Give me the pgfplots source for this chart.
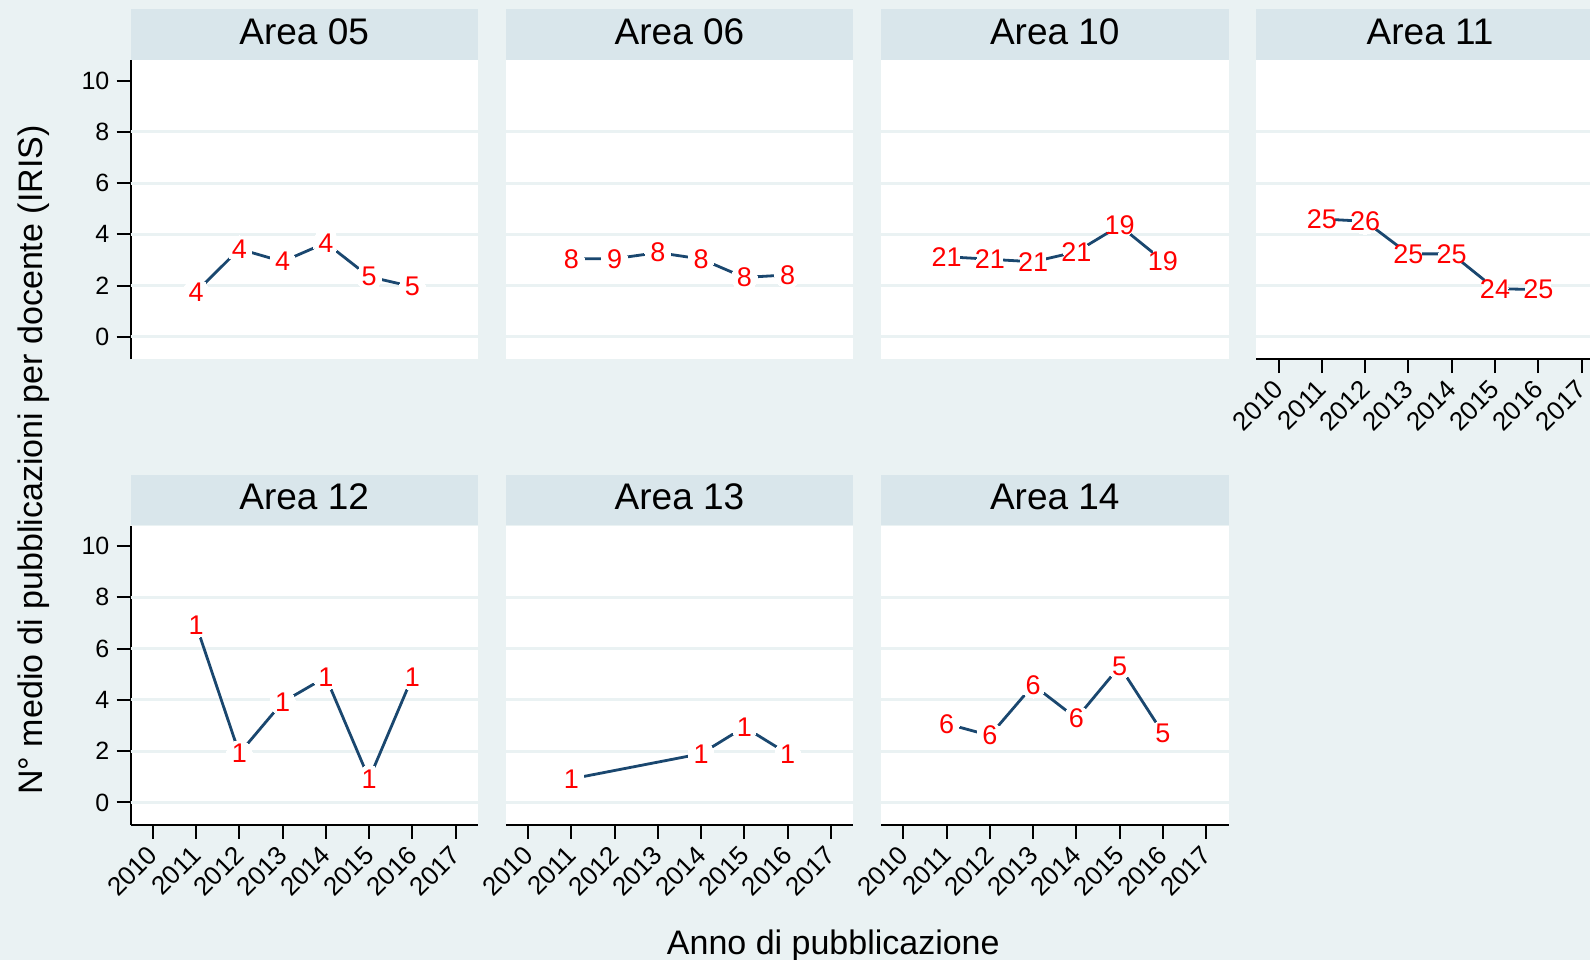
\documentclass[border=0pt]{standalone}
\usepackage{pgfplots}
\pgfplotsset{compat=1.18}
\usepackage{fontspec}
\setmainfont{Liberation Sans}

\definecolor{bgc}{RGB}{234,242,243}
\definecolor{stripc}{RGB}{217,230,235}
\definecolor{gridc}{RGB}{234,242,243}
\definecolor{stnavy}{RGB}{26,71,111}

% one pixel of the reference = 1pt
\pgfplotsset{
  panel/.style={
    scale only axis, width=347.4pt, height=299pt,
    anchor=south west, clip=false,
    xmin=2009.485, xmax=2017.515, ymin=-0.86, ymax=10.8,
    axis background/.style={fill=white},
    axis x line*=bottom, axis y line*=left,
    x axis line style={draw=none}, y axis line style={draw=none},
    xtick=\empty, ytick=\empty,
    extra y ticks={0,2,4,6,8}, extra y tick labels={},
    extra y tick style={ymajorgrids=true, major tick length=0pt},
    major grid style={gridc, line width=3pt},
    tick align=outside, major tick length=14pt,
    tick style={black, line width=2pt},
    every axis title/.style={at={(0.5,1)}, anchor=south, fill=stripc,
      inner sep=0pt, minimum width=347.4pt, text height=35pt,
      text depth=15.7pt, font=\fontsize{37}{44}\selectfont},
    /pgf/number format/assume math mode=true,
    point meta=explicit symbolic,
    nodes near coords, nodes near coords align={center},
    every node near coord/.append style={anchor=center, text=red,
      inner sep=0pt, font=\fontsize{27}{32}\selectfont},
  },
  yax/.style={
    y axis line style={draw=black, line width=2pt},
    ytick={0,2,4,6,8,10},
    yticklabel style={font=\fontsize{25}{30}\selectfont, inner sep=0pt},
    yticklabel shift=7pt,
  },
  xax/.style={
    x axis line style={draw=black, line width=2pt},
    xtick={2010,2011,2012,2013,2014,2015,2016,2017},
    xticklabels={2010,2011,2012,2013,2014,2015,2016,2017},
    xticklabel style={font=\fontsize{26}{31}\selectfont, inner sep=0pt,
      rotate=45, anchor=east},
    xticklabel shift=12pt,
  },
  serie/.style={stnavy, line width=2.8pt, mark=*, mark size=13pt,
    mark options={fill=white, draw=white, line width=0pt}},
}

\begin{document}
\begin{tikzpicture}
\useasboundingbox (0,0) rectangle (1590pt,-960pt);
\fill[bgc] (0,0) rectangle (1590pt,-960pt);

\begin{axis}[panel, yax, at={(130.5pt,-359pt)}, title={Area 05}]
\addplot[serie] coordinates {(2011,1.75)[4] (2012,3.43)[4] (2013,2.94)[4] (2014,3.67)[4] (2015,2.35)[5] (2016,1.96)[5]};
\end{axis}

\begin{axis}[panel, at={(505.8pt,-359pt)}, title={Area 06}]
\addplot[serie] coordinates {(2011,3.05)[8] (2012,3.05)[9] (2013,3.29)[8] (2014,3.04)[8] (2015,2.32)[8] (2016,2.42)[8]};
\end{axis}

\begin{axis}[panel, at={(881.1pt,-359pt)}, title={Area 10}]
\addplot[serie] coordinates {(2011,3.13)[21] (2012,3.03)[21] (2013,2.93)[21] (2014,3.32)[21] (2015,4.34)[19] (2016,2.97)[19]};
\end{axis}

\begin{axis}[panel, xax, at={(1256.4pt,-359pt)}, title={Area 11}]
\addplot[serie] coordinates {(2011,4.60)[25] (2012,4.51)[26] (2013,3.24)[25] (2014,3.24)[25] (2015,1.88)[24] (2016,1.85)[25]};
\end{axis}

\begin{axis}[panel, yax, xax, at={(130.5pt,-824.5pt)}, title={Area 12}]
\addplot[serie] coordinates {(2011,6.93)[1] (2012,1.91)[1] (2013,3.91)[1] (2014,4.89)[1] (2015,0.92)[1] (2016,4.89)[1]};
\end{axis}

\begin{axis}[panel, xax, at={(505.8pt,-824.5pt)}, title={Area 13}]
\addplot[serie] coordinates {(2011,0.92)[1] (2014,1.90)[1] (2015,2.94)[1] (2016,1.90)[1]};
\end{axis}

\begin{axis}[panel, xax, at={(881.1pt,-824.5pt)}, title={Area 14}]
\addplot[serie] coordinates {(2011,3.07)[6] (2012,2.61)[6] (2013,4.58)[6] (2014,3.28)[6] (2015,5.31)[5] (2016,2.70)[5]};
\end{axis}

\node[rotate=90, anchor=base, font=\fontsize{34}{41}\selectfont] at (42pt,-460pt) {N° medio di pubblicazioni per docente (IRIS)};
\node[anchor=base, font=\fontsize{34}{41}\selectfont] at (833.3pt,-954pt) {Anno di pubblicazione};
\end{tikzpicture}
\end{document}
